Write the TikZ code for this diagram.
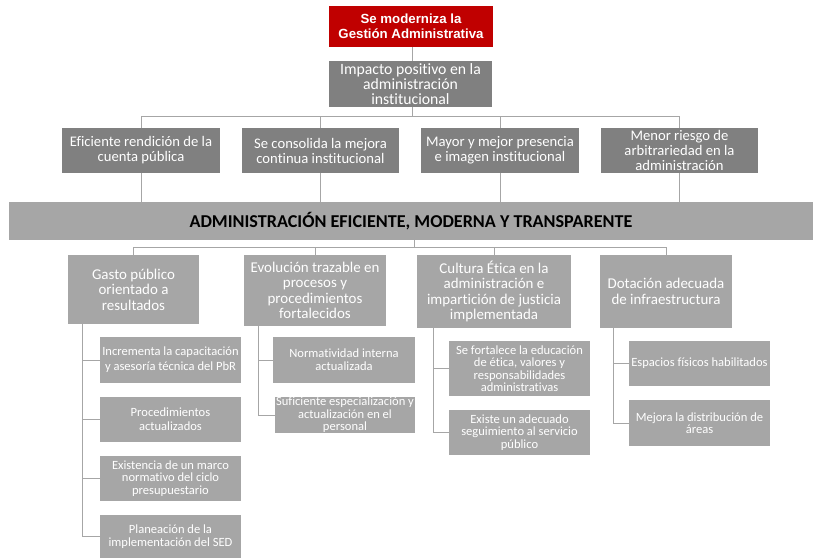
\documentclass[tikz,border=0pt]{standalone}
\usepackage{fontspec}
\setmainfont{Carlito}[Ligatures={NoCommon}]
\newfontfamily\arialf{Liberation Sans}
\definecolor{redbox}{HTML}{C00000}
\definecolor{darkg}{HTML}{808080}
\definecolor{lightg}{HTML}{A6A6A6}
\definecolor{lineg}{HTML}{A6A6A6}
\begin{document}
\begin{tikzpicture}[x=1bp,y=-1bp,
  base/.style={rectangle, inner sep=0pt, align=center, text=white},
  topbox/.style={base, fill=redbox, minimum width=164bp, minimum height=41bp, font=\arialf\bfseries\fontsize{13.3}{15}\selectfont},
  impbox/.style={base, fill=darkg, minimum width=163bp, minimum height=46bp, font=\fontsize{15.8}{15}\selectfont},
  lvtwo/.style={base, fill=darkg, minimum height=45bp, font=\fontsize{14.7}{15}\selectfont},
  bandbox/.style={base, fill=lightg, text=black, minimum width=804bp, minimum height=38bp, font=\bfseries\fontsize{18.2}{20}\selectfont},
  lvthree/.style={base, fill=lightg, font=\fontsize{15}{15.5}\selectfont},
  subbox/.style={base, fill=lightg, font=\fontsize{12.6}{13.3}\selectfont},
  subtight/.style={subbox, font=\fontsize{12.6}{12.5}\selectfont},
  conn/.style={draw=lineg, line width=1bp}
]
\useasboundingbox (0,0) rectangle (813,558);
\fill[white] (0,0) rectangle (813,558);

% nodes
\node[topbox] (r) at (411,26.5) {Se moderniza la\\Gestión Administrativa};
\node[impbox] (imp) at (410.5,84) {Impacto positivo en la\\administración\\institucional};

\node[lvtwo, minimum width=158bp] (e1) at (141,150.5) {Eficiente rendición de la\\cuenta pública};
\node[lvtwo, minimum width=157bp] (e2) at (320.5,150.5) {Se consolida la mejora\\continua institucional};
\node[lvtwo, minimum width=158bp] (e3) at (500,150.5) {Mayor y mejor presencia\\e imagen institucional};
\node[lvtwo, minimum width=157bp] (e4) at (679.5,150.5) {Menor riesgo de\\arbitrariedad en la\\administración};

\node[bandbox] (band) at (411,221) {ADMINISTRACIÓN EFICIENTE, MODERNA Y TRANSPARENTE};

\node[lvthree, minimum width=131bp, minimum height=69bp] (g1) at (133.5,289.5) {Gasto público\\orientado a\\resultados};
\node[lvthree, minimum width=142bp, minimum height=71bp] (g2) at (315,290.5) {Evolución trazable en\\procesos y\\procedimientos\\fortalecidos};
\node[lvthree, minimum width=154bp, minimum height=73bp] (g3) at (494,291.5) {Cultura Ética en la\\administración e\\impartición de justicia\\implementada};
\node[lvthree, minimum width=132bp, minimum height=73bp] (g4) at (666,291.5) {Dotación adecuada\\de infraestructura};

\node[subbox, minimum width=141bp, minimum height=46bp, font=\fontsize{12.6}{15}\selectfont] (s11) at (170.5,360) {Incrementa la capacitación\\y asesoría técnica del PbR};
\node[subbox, minimum width=141bp, minimum height=45bp, font=\fontsize{12.6}{14.3}\selectfont] (s12) at (170.5,419.5) {Procedimientos\\actualizados};
\node[subtight, minimum width=141bp, minimum height=45bp] (s13) at (170.5,478.5) {Existencia de un marco\\normativo del ciclo\\presupuestario};
\node[subbox, minimum width=141bp, minimum height=43bp] (s14) at (170.5,536.5) {Planeación de la\\implementación del SED};

\node[subbox, minimum width=142bp, minimum height=46bp] (s21) at (344,360) {Normatividad interna\\actualizada};
\node[subtight, minimum width=140bp, minimum height=36bp] (s22) at (345,415) {Suficiente especialización y\\actualización en el\\personal};

\node[subtight, minimum width=141bp, minimum height=55bp] (s31) at (519.5,368.5) {Se fortalece la educación\\de ética, valores y\\responsabilidades\\administrativas};
\node[subtight, minimum width=141bp, minimum height=45bp] (s32) at (519.5,432.5) {Existe un adecuado\\seguimiento al servicio\\público};

\node[subbox, minimum width=141bp, minimum height=45bp] (s41) at (699.5,363.5) {Espacios físicos habilitados};
\node[subtight, minimum width=141bp, minimum height=46bp] (s42) at (699.5,423) {Mejora la distribución de\\áreas};

% helper coordinates
\coordinate (hA) at (412,117);
\coordinate (hB) at (414,248);
\coordinate (v1) at (82,0);
\coordinate (v2) at (258,0);
\coordinate (v3) at (433,0);
\coordinate (v4) at (613,0);

% connectors top
\draw[conn] (r.south -| hA) -- (imp.north -| hA);
\draw[conn] (imp.south -| hA) -- (hA);
\draw[conn] (e1.north) |- (hA -| e4.north) -- (e4.north);
\draw[conn] (e2.north) -- (e2.north |- hA);
\draw[conn] (e3.north) -- (e3.north |- hA);
\foreach \n in {e1,e2,e3,e4} \draw[conn] (\n.south) -- (\n.south |- band.north);

% connectors below band
\draw[conn] (band.south -| hB) -- (hB);
\draw[conn] (g1.north) |- (hB -| g4.north) -- (g4.north);
\draw[conn] (g2.north) -- (g2.north |- hB);
\draw[conn] (g3.north) -- (g3.north |- hB);

% sub-branches
\draw[conn] (g1.south -| v1) |- (s14.west);
\foreach \n in {s11,s12,s13} \draw[conn] (v1 |- \n.west) -- (\n.west);
\draw[conn] (g2.south -| v2) |- (s22.west);
\draw[conn] (v2 |- s21.west) -- (s21.west);
\draw[conn] (g3.south -| v3) |- (s32.west);
\draw[conn] (v3 |- s31.west) -- (s31.west);
\draw[conn] (g4.south -| v4) |- (s42.west);
\draw[conn] (v4 |- s41.west) -- (s41.west);
\end{tikzpicture}
\end{document}
